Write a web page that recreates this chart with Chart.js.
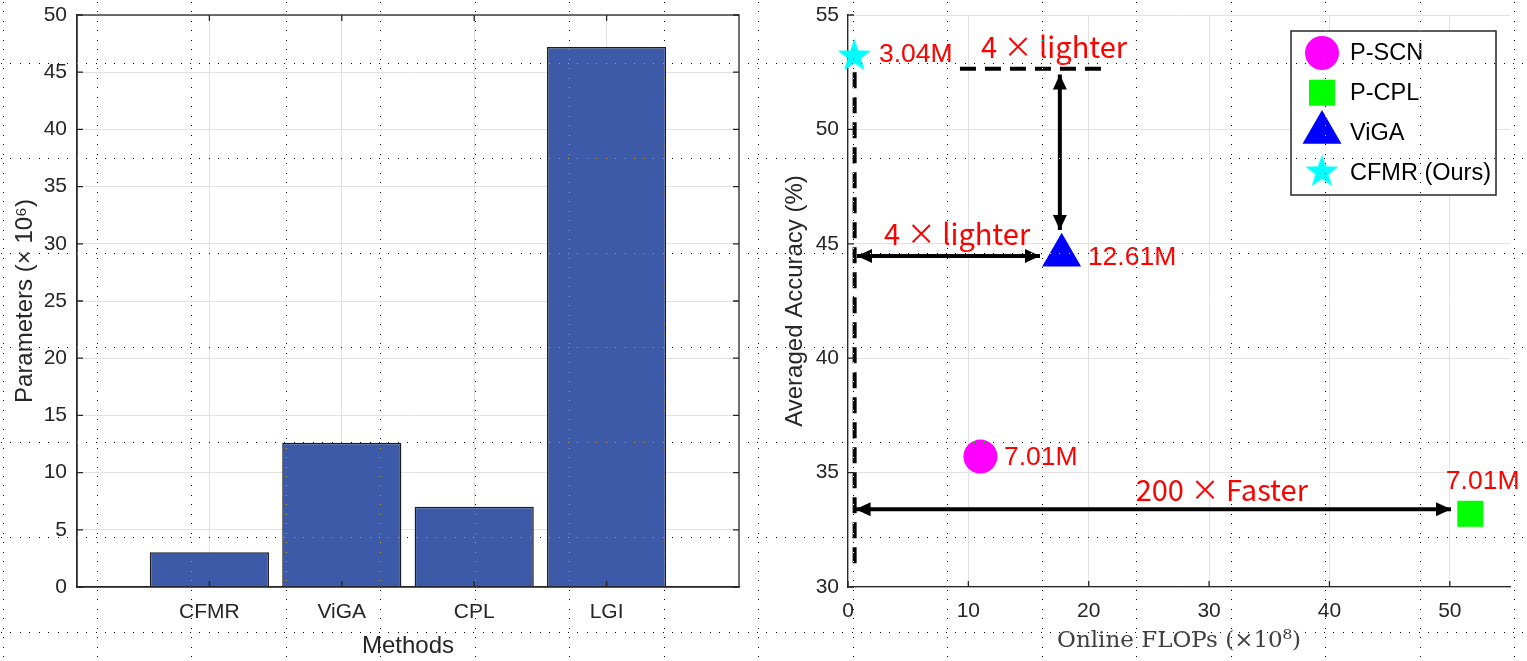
<!DOCTYPE html>
<html>
<head>
<meta charset="utf-8">
<script src="https://cdn.jsdelivr.net/npm/chart.js@4.4.1/dist/chart.umd.min.js"></script>
<style>
html, body { margin: 0; padding: 0; background: #fff; }
#wrap { position: relative; width: 1527px; height: 661px; overflow: hidden; background: #fff; isolation: isolate; }
#left { position: absolute; left: 0; top: 0; }
#right { position: absolute; left: 760px; top: 0; }
#dots { position: absolute; left: 0; top: 0; mix-blend-mode: difference; pointer-events: none; }
</style>
</head>
<body>
<div id="wrap">
  <canvas id="left" width="760" height="661"></canvas>
  <canvas id="right" width="767" height="661"></canvas>
  <canvas id="dots" width="1527" height="661"></canvas>
</div>
<script>
// left panel: parameters per method (x 10^6)
var methods = ['CFMR', 'ViGA', 'CPL', 'LGI'];
var paramsM = [3.04, 12.61, 7.01, 47.2];

// right panel: flops vs accuracy
var models = ['P-SCN', 'P-CPL', 'ViGA', 'CFMR (Ours)'];
var flops = [11.0, 51.7, 17.75, 0.52];
var accuracy = [35.7, 33.2, 44.5, 53.2];
var sizeTags = ['7.01M', '7.01M', '12.61M', '3.04M'];
var tagX = [12.96, 49.67, 19.93, 2.57];
var tagY = [35.64, 34.59, 44.38, 53.25];

// guide lines and arrows (data coords)
var dashX = [[0.55, 0.55], [9.3, 21.5]];
var dashY = [[52.5, 31.0], [52.65, 52.65]];
var arrowX = [[17.6, 17.6], [0.75, 15.95], [0.63, 50.1]];
var arrowY = [[52.4, 45.6], [44.47, 44.47], [33.4, 33.4]];
var noteText = ['4 × lighter', '4 × lighter', '200 × Faster'];
var noteX = [11.05, 3.0, 23.9];
var noteY = [53.6, 45.43, 34.24];

Chart.defaults.font.family = '"Liberation Sans", Arial, sans-serif';
Chart.defaults.color = '#262626';
Chart.defaults.animation = false;

var dark = '#262626';
var gridCol = '#e2e2e2';

function makeStar(r, color) {
    var c = document.createElement('canvas');
    var s = Math.ceil(r * 2 + 2);
    c.width = s; c.height = s;
    var g = c.getContext('2d');
    g.fillStyle = color;
    g.beginPath();
    for (var i = 0; i < 10; i++) {
        var rr = i % 2 ? r * 0.4 : r;
        var a = -Math.PI / 2 + i * Math.PI / 5;
        g.lineTo(s / 2 + rr * Math.cos(a), s / 2 + rr * Math.sin(a));
    }
    g.closePath();
    g.fill();
    return c;
}

// fixed axis sizes, no label overflow padding
function fitX(s) { s.height = 74; s.paddingLeft = 0; s.paddingRight = 0; }
function fitY(w) {
    return function(s) { s.width = w; s.paddingTop = 0; s.paddingBottom = 0; };
}

// inward tick marks + optional full box
var boxTicks = {
    id: 'boxTicks',
    afterDatasetsDraw: function(chart, args, opts) {
        var ctx = chart.ctx, a = chart.chartArea, x = chart.scales.x, y = chart.scales.y;
        var L = 6;
        ctx.save();
        ctx.strokeStyle = dark;
        ctx.lineWidth = 1.3;
        if (opts.box) ctx.strokeRect(a.left, a.top, a.right - a.left, a.bottom - a.top);
        ctx.beginPath();
        x.ticks.forEach(function(t) {
            var px = x.getPixelForValue(t.value);
            ctx.moveTo(px, a.bottom); ctx.lineTo(px, a.bottom - L);
            if (opts.box) { ctx.moveTo(px, a.top); ctx.lineTo(px, a.top + L); }
        });
        y.ticks.forEach(function(t) {
            var py = y.getPixelForValue(t.value);
            ctx.moveTo(a.left, py); ctx.lineTo(a.left + L, py);
            if (opts.box) { ctx.moveTo(a.right, py); ctx.lineTo(a.right - L, py); }
        });
        ctx.stroke();
        ctx.restore();
    }
};

new Chart(document.getElementById('left'), {
    type: 'bar',
    data: {
        datasets: [{
            data: paramsM.map(function(v, i) { return {x: i + 1, y: v}; }),
            backgroundColor: '#3c5aa8',
            borderColor: '#1c1c1c',
            borderWidth: 1.5,
            barPercentage: 0.9,
            categoryPercentage: 1.0
        }]
    },
    options: {
        responsive: false,
        layout: { autoPadding: false, padding: { top: 15, right: 21, left: 0, bottom: 0 } },
        plugins: {
            legend: { display: false },
            tooltip: { enabled: false },
            boxTicks: { box: true }
        },
        scales: {
            x: {
                type: 'linear',
                min: 0, max: 5,
                offset: false,
                afterBuildTicks: function(s) { s.ticks = methods.map(function(m, i) { return {value: i + 1}; }); },
                afterFit: fitX,
                ticks: {
                    callback: function(v) { return methods[v - 1]; },
                    font: { size: 21 }, color: dark, padding: 13, maxRotation: 0, autoSkip: false
                },
                grid: { color: gridCol, drawTicks: false, offset: false },
                border: { color: dark, width: 1.3 },
                title: { display: true, text: 'Methods', font: { size: 24 }, color: dark, padding: { top: 0, bottom: 0 } }
            },
            y: {
                min: 0, max: 50,
                afterFit: fitY(77),
                ticks: { stepSize: 5, font: { size: 21 }, color: dark, padding: 10 },
                grid: { color: gridCol, drawTicks: false },
                border: { color: dark, width: 1.3 },
                title: { display: true, text: 'Parameters (× 10⁶)', font: { size: 24 }, color: dark, padding: { top: 11 } }
            }
        }
    },
    plugins: [boxTicks]
});

// arrow heads on the arrow datasets
var arrowHeads = {
    id: 'arrowHeads',
    afterDatasetsDraw: function(chart) {
        var ctx = chart.ctx;
        chart.data.datasets.forEach(function(ds, i) {
            if (!ds.arrow) return;
            var pts = chart.getDatasetMeta(i).data;
            var p0 = pts[0], p1 = pts[pts.length - 1];
            [[p0, p1], [p1, p0]].forEach(function(pair) {
                var tip = pair[0], from = pair[1];
                var ang = Math.atan2(tip.y - from.y, tip.x - from.x);
                var len = 15, hw = 7;
                ctx.save();
                ctx.translate(tip.x, tip.y);
                ctx.rotate(ang);
                ctx.fillStyle = '#000';
                ctx.beginPath();
                ctx.moveTo(0, 0);
                ctx.lineTo(-len, -hw);
                ctx.lineTo(-len, hw);
                ctx.closePath();
                ctx.fill();
                ctx.restore();
            });
        });
    }
};

var notes = {
    id: 'notes',
    afterDatasetsDraw: function(chart) {
        var ctx = chart.ctx, x = chart.scales.x, y = chart.scales.y;
        ctx.save();
        ctx.fillStyle = '#ff0000';
        ctx.textAlign = 'left';
        ctx.textBaseline = 'middle';
        ctx.font = '26.5px "Liberation Sans"';
        sizeTags.forEach(function(t, i) {
            ctx.fillText(t, x.getPixelForValue(tagX[i]), y.getPixelForValue(tagY[i]));
        });
        ctx.font = '29px "Noto Sans CJK SC"';
        noteText.forEach(function(t, i) {
            ctx.fillText(t, x.getPixelForValue(noteX[i]), y.getPixelForValue(noteY[i]));
        });
        ctx.restore();
    }
};

var legendBox = {
    id: 'legendBox',
    afterDraw: function(chart) {
        var ctx = chart.ctx, a = chart.chartArea;
        var w = 205, h = 164;
        var x0 = a.right - 14 - w, y0 = a.top + 16;
        ctx.save();
        ctx.fillStyle = '#fff';
        ctx.fillRect(x0, y0, w, h);
        ctx.strokeStyle = dark;
        ctx.lineWidth = 1.5;
        ctx.strokeRect(x0, y0, w, h);
        ctx.font = '23.5px "Liberation Sans"';
        ctx.textBaseline = 'middle';
        for (var i = 0; i < models.length; i++) {
            var ds = chart.data.datasets[i];
            var cy = y0 + 22 + i * 39.7;
            ctx.fillStyle = ds.backgroundColor;
            ctx.strokeStyle = ds.borderColor;
            Chart.helpers.drawPoint(ctx, {
                pointStyle: ds.pointStyle, radius: ds.pointRadius, borderWidth: 0, rotation: 0
            }, x0 + 31, cy);
            ctx.fillStyle = '#000';
            ctx.fillText(ds.label, x0 + 59, cy + 1);
        }
        ctx.restore();
    }
};

var colors = ['#ff00ff', '#00ff00', '#0000ff', '#00ffff'];
var styles = ['circle', 'rect', 'triangle', makeStar(17.5, '#00ffff')];
var radii = [17, 18.4, 22.5, 17];

var sets = models.map(function(m, i) {
    return {
        label: m,
        data: [{x: flops[i], y: accuracy[i]}],
        pointStyle: styles[i],
        pointRadius: radii[i],
        backgroundColor: colors[i],
        borderColor: colors[i],
        borderWidth: 0,
        clip: false
    };
});
dashX.forEach(function(xs, i) {
    sets.push({
        data: xs.map(function(v, j) { return {x: v, y: dashY[i][j]}; }),
        showLine: true, borderColor: '#000', borderWidth: 4, borderDash: [16, 9],
        pointRadius: 0, clip: false
    });
});
arrowX.forEach(function(xs, i) {
    sets.push({
        data: xs.map(function(v, j) { return {x: v, y: arrowY[i][j]}; }),
        showLine: true, borderColor: '#000', borderWidth: 4,
        pointRadius: 0, clip: false, arrow: true
    });
});

new Chart(document.getElementById('right'), {
    type: 'scatter',
    data: { datasets: sets },
    options: {
        responsive: false,
        layout: { autoPadding: false, padding: { top: 15, right: 17, left: 0, bottom: 0 } },
        plugins: {
            legend: { display: false },
            tooltip: { enabled: false },
            boxTicks: { box: false }
        },
        scales: {
            x: {
                type: 'linear',
                min: 0, max: 55,
                afterBuildTicks: function(s) { s.ticks = s.ticks.filter(function(t) { return t.value <= 50; }); },
                afterFit: fitX,
                ticks: { stepSize: 10, font: { size: 21 }, color: dark, padding: 12, maxRotation: 0 },
                grid: { color: gridCol, drawTicks: false },
                border: { color: dark, width: 1.3 },
                title: {
                    display: true, text: 'Online FLOPs (×10⁸)',
                    font: { size: 23, family: '"DejaVu Serif", serif' }, color: '#404040',
                    padding: { top: 0, bottom: 6 }
                }
            },
            y: {
                min: 30, max: 55,
                afterFit: fitY(88),
                ticks: { stepSize: 5, font: { size: 21 }, color: dark, padding: 9 },
                grid: { color: gridCol, drawTicks: false },
                border: { color: dark, width: 1.3 },
                title: { display: true, text: 'Averaged Accuracy (%)', font: { size: 24 }, color: dark, padding: { top: 21 } }
            }
        }
    },
    plugins: [boxTicks, arrowHeads, notes, legendBox]
});

// dotted page grid laid over the whole picture
var dc = document.getElementById('dots').getContext('2d');
dc.fillStyle = '#fff';
for (var gx = 2.5; gx < 1527; gx += 94.47) {
    for (var yy = 2; yy < 661; yy += 9.48) dc.fillRect(Math.round(gx), Math.round(yy), 1, 1);
}
for (var gy = 63; gy < 661; gy += 94.83) {
    for (var xx = 1; xx < 1527; xx += 9.45) dc.fillRect(Math.round(xx), Math.round(gy), 1, 1);
}
</script>
</body>
</html>
